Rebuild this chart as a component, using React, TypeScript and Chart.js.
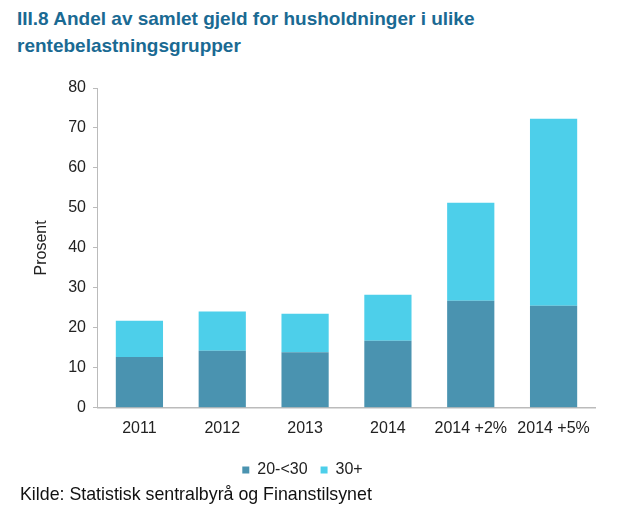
import React, { useEffect, useRef } from "react";
import { Chart, registerables } from "chart.js";

Chart.register(...registerables);

const categories = ["2011", "2012", "2013", "2014", "2014 +2%", "2014 +5%"];
const series20to30 = [12.7, 14.3, 13.9, 16.8, 26.8, 25.5];
const series30plus = [9.1, 9.8, 9.6, 11.5, 24.5, 46.8];
const yTicks = [0, 10, 20, 30, 40, 50, 60, 70, 80];

const FONT = "'Liberation Sans', Arial, sans-serif";

const legendShift = {
  id: "legendShift",
  afterLayout(chart: any) {
    if (chart.legend) {
      chart.legend.left -= 11;
      chart.legend.right -= 11;
    }
  },
};

export default function App() {
  const ref = useRef<HTMLCanvasElement | null>(null);

  useEffect(() => {
    if (!ref.current) return;
    const chart = new Chart(ref.current, {
      type: "bar",
      data: {
        labels: categories,
        datasets: [
          {
            label: "20-<30",
            data: series20to30,
            backgroundColor: "#4A93B0",
            barPercentage: 0.57,
            categoryPercentage: 1,
          },
          {
            label: "30+",
            data: series30plus,
            backgroundColor: "#4DCFEA",
            barPercentage: 0.57,
            categoryPercentage: 1,
          },
        ],
      },
      plugins: [legendShift],
      options: {
        animation: false,
        responsive: false,
        maintainAspectRatio: false,
        layout: { padding: { left: 32, right: 23, top: 88, bottom: 0 } },
        plugins: {
          legend: {
            position: "bottom",
            labels: {
              font: { family: FONT, size: 16 },
              color: "#222",
              boxWidth: 7,
              boxHeight: 7,
              padding: 13,
            },
          },
          tooltip: { enabled: false },
        },
        scales: {
          x: {
            stacked: true,
            grid: { display: false, drawTicks: false },
            border: { color: "#BBBBBB", width: 1.5 },
            ticks: { font: { family: FONT, size: 16 }, color: "#222", padding: 11 },
          },
          y: {
            stacked: true,
            min: 0,
            max: 80,
            afterBuildTicks: (axis: any) => {
              axis.ticks = yTicks.map((v) => ({ value: v }));
            },
            grid: { drawOnChartArea: false, drawTicks: true, tickLength: 5, color: "#BBBBBB" },
            border: { color: "#BBBBBB", width: 1 },
            ticks: { font: { family: FONT, size: 16 }, color: "#222", padding: 7 },
            title: {
              display: true,
              text: "Prosent",
              font: { family: FONT, size: 16 },
              color: "#222",
              padding: { top: 0, bottom: 10 },
            },
          },
        },
      },
    });
    return () => chart.destroy();
  }, []);

  return (
    <div style={{ position: "absolute", left: 0, top: 0, width: 618, height: 521, background: "#fff", overflow: "hidden" }}>
      <div
        style={{
          position: "absolute",
          left: 17,
          top: 5,
          width: 590,
          fontFamily: FONT,
          fontWeight: "bold",
          fontSize: 19,
          lineHeight: "27px",
          color: "#1A6A93",
        }}
      >
        III.8 Andel av samlet gjeld for husholdninger i ulike
        <br />
        rentebelastningsgrupper
      </div>
      <canvas ref={ref} width={618} height={488} style={{ position: "absolute", left: 0, top: 0 }} />
      <div
        style={{
          position: "absolute",
          left: 20,
          top: 484,
          fontFamily: FONT,
          fontSize: 17.8,
          color: "#111",
        }}
      >
        Kilde: Statistisk sentralbyrå og Finanstilsynet
      </div>
    </div>
  );
}
